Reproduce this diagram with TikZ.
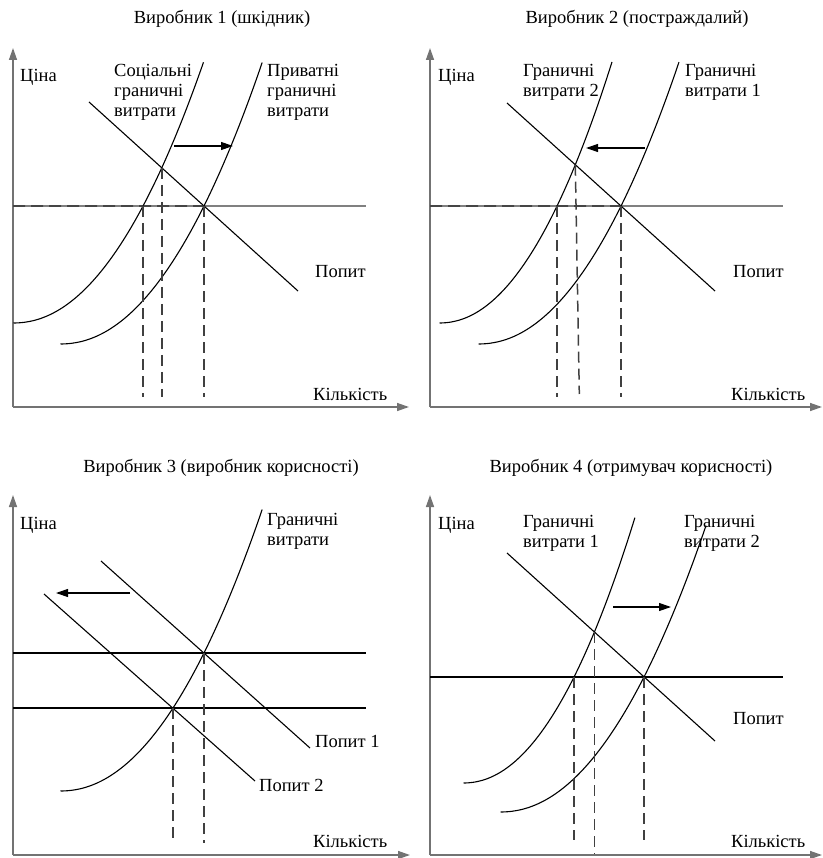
\documentclass[tikz,border=0pt]{standalone}
\usepackage{fontspec}
\setmainfont{Liberation Serif}
\usetikzlibrary{arrows.meta,intersections,calc}
\newcommand{\mcplot}[6]{%
  \draw[curve,name path=#1] plot[domain=0.005:#5,samples=90,smooth] ({#2+100*\x},{#3-#4*pow(\x,2.1)}) coordinate (#6);}
\begin{document}
\begin{tikzpicture}[x=1pt,y=-1pt,
  lbl/.style={anchor=base west,inner sep=0pt,font=\fontsize{18.5}{21}\selectfont},
  ttl/.style={anchor=base,inner sep=0pt,font=\fontsize{18.5}{21}\selectfont},
  axis/.style={draw=black!55,line width=1.4pt,-{Triangle[length=12pt,width=8pt]}},
  curve/.style={draw=black,line width=1.1pt},
  dem/.style={draw=black,line width=1.1pt},
  hz/.style={draw=black!50,line width=1.3pt},
  hzb/.style={draw=black,line width=1.1pt},
  hzdash/.style={draw=black!85,line width=1.3pt,dash pattern=on 12pt off 6pt},
  vdash/.style={draw=black!75,line width=1.5pt,dash pattern=on 11pt off 6pt},
  shiftarrow/.style={draw=black,line width=1.1pt,-{Triangle[length=12pt,width=8pt]}}]
\useasboundingbox (0,0) rectangle (822,858);

% ================= Panel 1 =================
\coordinate (p1o) at (13,407);
\coordinate (p1yt) at (13,48);
\coordinate (p1xt) at (409,407);
\coordinate (p1bot) at (0,397);
\draw[axis] (p1o) -- (p1yt);
\draw[axis] (p1o) -- (p1xt);
\node[ttl] (p1t) at (222,24) {Виробник 1 (шкідник)};
\node[lbl] (p1ci) at (20,82) {Ціна};
\node[lbl] (p1k) at (313,400) {Кількість};
\node[lbl] (p1s1) at (114,77) {Соціальні};
\node[lbl] (p1s2) at (114,97) {граничні};
\node[lbl] (p1s3) at (114,117) {витрати};
\node[lbl] (p1p1) at (267,77) {Приватні};
\node[lbl] (p1p2) at (267,97) {граничні};
\node[lbl] (p1p3) at (267,117) {витрати};
\node[lbl] (p1pop) at (315,277) {Попит};
\coordinate (p1hl) at (13,206);
\coordinate (p1hr) at (366,206);
\draw[hz,name path=p1hz] (p1hl) -- (p1hr);
\mcplot{p1soc}{13}{323}{67.4}{1.905}{p1socend}
\mcplot{p1pri}{60}{344}{64.2}{2.023}{p1priend}
\coordinate (p1d1) at (89,102);
\coordinate (p1d2) at (298,291);
\draw[dem,name path=p1dem] (p1d1) -- (p1d2);
\path[name intersections={of=p1soc and p1hz,by=p1a}];
\path[name intersections={of=p1soc and p1dem,by=p1b}];
\path[name intersections={of=p1pri and p1hz,by=p1c}];
\draw[hzdash] (p1hl) -- (p1c);
\draw[vdash] (p1a) -- (p1a |- p1bot);
\draw[vdash] (p1b) -- (p1b |- p1bot);
\draw[vdash] (p1c) -- (p1c |- p1bot);
\coordinate (p1s) at (174,146);
\coordinate (p1e) at (233,146);
\draw[shiftarrow] (p1s) -- (p1e);

% ================= Panel 2 =================
\coordinate (p2o) at (430,407);
\coordinate (p2yt) at (430,48);
\coordinate (p2xt) at (822,407);
\coordinate (p2bot) at (0,397);
\coordinate (p2bot2) at (0,394);
\draw[axis] (p2o) -- (p2yt);
\draw[axis] (p2o) -- (p2xt);
\node[ttl] (p2t) at (637,24) {Виробник 2 (постраждалий)};
\node[lbl] (p2ci) at (438,82) {Ціна};
\node[lbl] (p2k) at (731,400) {Кількість};
\node[lbl] (p2a1) at (523,77) {Граничні};
\node[lbl] (p2a2) at (523,97) {витрати 2};
\node[lbl] (p2b1) at (685,77) {Граничні};
\node[lbl] (p2b2) at (685,97) {витрати 1};
\node[lbl] (p2pop) at (733,277) {Попит};
\coordinate (p2hl) at (430,206);
\coordinate (p2hr) at (783,206);
\draw[hz,name path=p2hz] (p2hl) -- (p2hr);
\mcplot{p2mcb}{439}{323}{82.6}{1.73}{p2mcbend}
\mcplot{p2mca}{478}{344}{65.1}{2.01}{p2mcaend}
\coordinate (p2d1) at (507,103);
\coordinate (p2d2) at (715,291);
\draw[dem,name path=p2dem] (p2d1) -- (p2d2);
\path[name intersections={of=p2mcb and p2hz,by=p2a}];
\path[name intersections={of=p2mcb and p2dem,by=p2b}];
\path[name intersections={of=p2mca and p2hz,by=p2c}];
\draw[hzdash] (p2hl) -- (p2c);
\draw[vdash] (p2a) -- (p2a |- p2bot);
\draw[vdash] (p2b) -- ($(p2b |- p2bot2)+(4,0)$);
\draw[vdash] (p2c) -- (p2c |- p2bot);
\coordinate (p2s) at (645,148);
\coordinate (p2e) at (586,148);
\draw[shiftarrow] (p2s) -- (p2e);

% ================= Panel 3 =================
\coordinate (p3o) at (13,855);
\coordinate (p3yt) at (13,495);
\coordinate (p3xt) at (410,855);
\coordinate (p3bot) at (0,843);
\draw[axis] (p3o) -- (p3yt);
\draw[axis] (p3o) -- (p3xt);
\node[ttl] (p3t) at (221,472) {Виробник 3 (виробник корисності)};
\node[lbl] (p3ci) at (20,529) {Ціна};
\node[lbl] (p3k) at (313,847) {Кількість};
\node[lbl] (p3a1) at (267,525) {Граничні};
\node[lbl] (p3a2) at (267,545) {витрати};
\node[lbl] (p3pop1) at (315,747) {Попит 1};
\node[lbl] (p3pop2) at (259,791) {Попит 2};
\coordinate (p3h1l) at (13,653);
\coordinate (p3h1r) at (366,653);
\coordinate (p3h2l) at (13,708);
\coordinate (p3h2r) at (366,708);
\draw[hzb,name path=p3hza] (p3h1l) -- (p3h1r);
\draw[hzb,name path=p3hzb] (p3h2l) -- (p3h2r);
\mcplot{p3mc}{60}{791}{64.2}{2.023}{p3mcend}
\coordinate (p3d1a) at (101,561);
\coordinate (p3d1b) at (310,748);
\coordinate (p3d2a) at (44,594);
\coordinate (p3d2b) at (255,781);
\draw[dem] (p3d1a) -- (p3d1b);
\draw[dem] (p3d2a) -- (p3d2b);
\path[name intersections={of=p3mc and p3hza,by=p3a}];
\path[name intersections={of=p3mc and p3hzb,by=p3b}];
\draw[vdash] (p3a) -- (p3a |- p3bot);
\draw[vdash] (p3b) -- (p3b |- p3bot);
\coordinate (p3s) at (130,593);
\coordinate (p3e) at (56,593);
\draw[shiftarrow] (p3s) -- (p3e);

% ================= Panel 4 =================
\coordinate (p4o) at (430,855);
\coordinate (p4yt) at (430,495);
\coordinate (p4xt) at (822,855);
\coordinate (p4bot) at (0,840);
\coordinate (p4bot2) at (0,854);
\draw[axis] (p4o) -- (p4yt);
\draw[axis] (p4o) -- (p4xt);
\node[ttl] (p4t) at (631,472) {Виробник 4 (отримувач корисності)};
\node[lbl] (p4ci) at (438,529) {Ціна};
\node[lbl] (p4k) at (731,847) {Кількість};
\node[lbl] (p4a1) at (523,527) {Граничні};
\node[lbl] (p4a2) at (523,547) {витрати 1};
\node[lbl] (p4b1) at (684,527) {Граничні};
\node[lbl] (p4b2) at (684,547) {витрати 2};
\node[lbl] (p4pop) at (733,724) {Попит};
\coordinate (p4hl) at (430,677);
\coordinate (p4hr) at (783,677);
\draw[hzb,name path=p4hz] (p4hl) -- (p4hr);
\mcplot{p4mca}{463}{783}{85.1}{1.72}{p4mcaend}
\mcplot{p4mcb}{500}{812}{62.8}{2.06}{p4mcbend}
\coordinate (p4d1) at (507,553);
\coordinate (p4d2) at (715,741);
\draw[dem,name path=p4dem] (p4d1) -- (p4d2);
\path[name intersections={of=p4mca and p4hz,by=p4a}];
\path[name intersections={of=p4mca and p4dem,by=p4b}];
\path[name intersections={of=p4mcb and p4hz,by=p4c}];
\draw[vdash] (p4a) -- (p4a |- p4bot);
\draw[vdash] (p4b) -- (p4b |- p4bot2);
\draw[vdash] (p4c) -- (p4c |- p4bot);
\coordinate (p4s) at (613,607);
\coordinate (p4e) at (671,607);
\draw[shiftarrow] (p4s) -- (p4e);
\end{tikzpicture}
\end{document}
